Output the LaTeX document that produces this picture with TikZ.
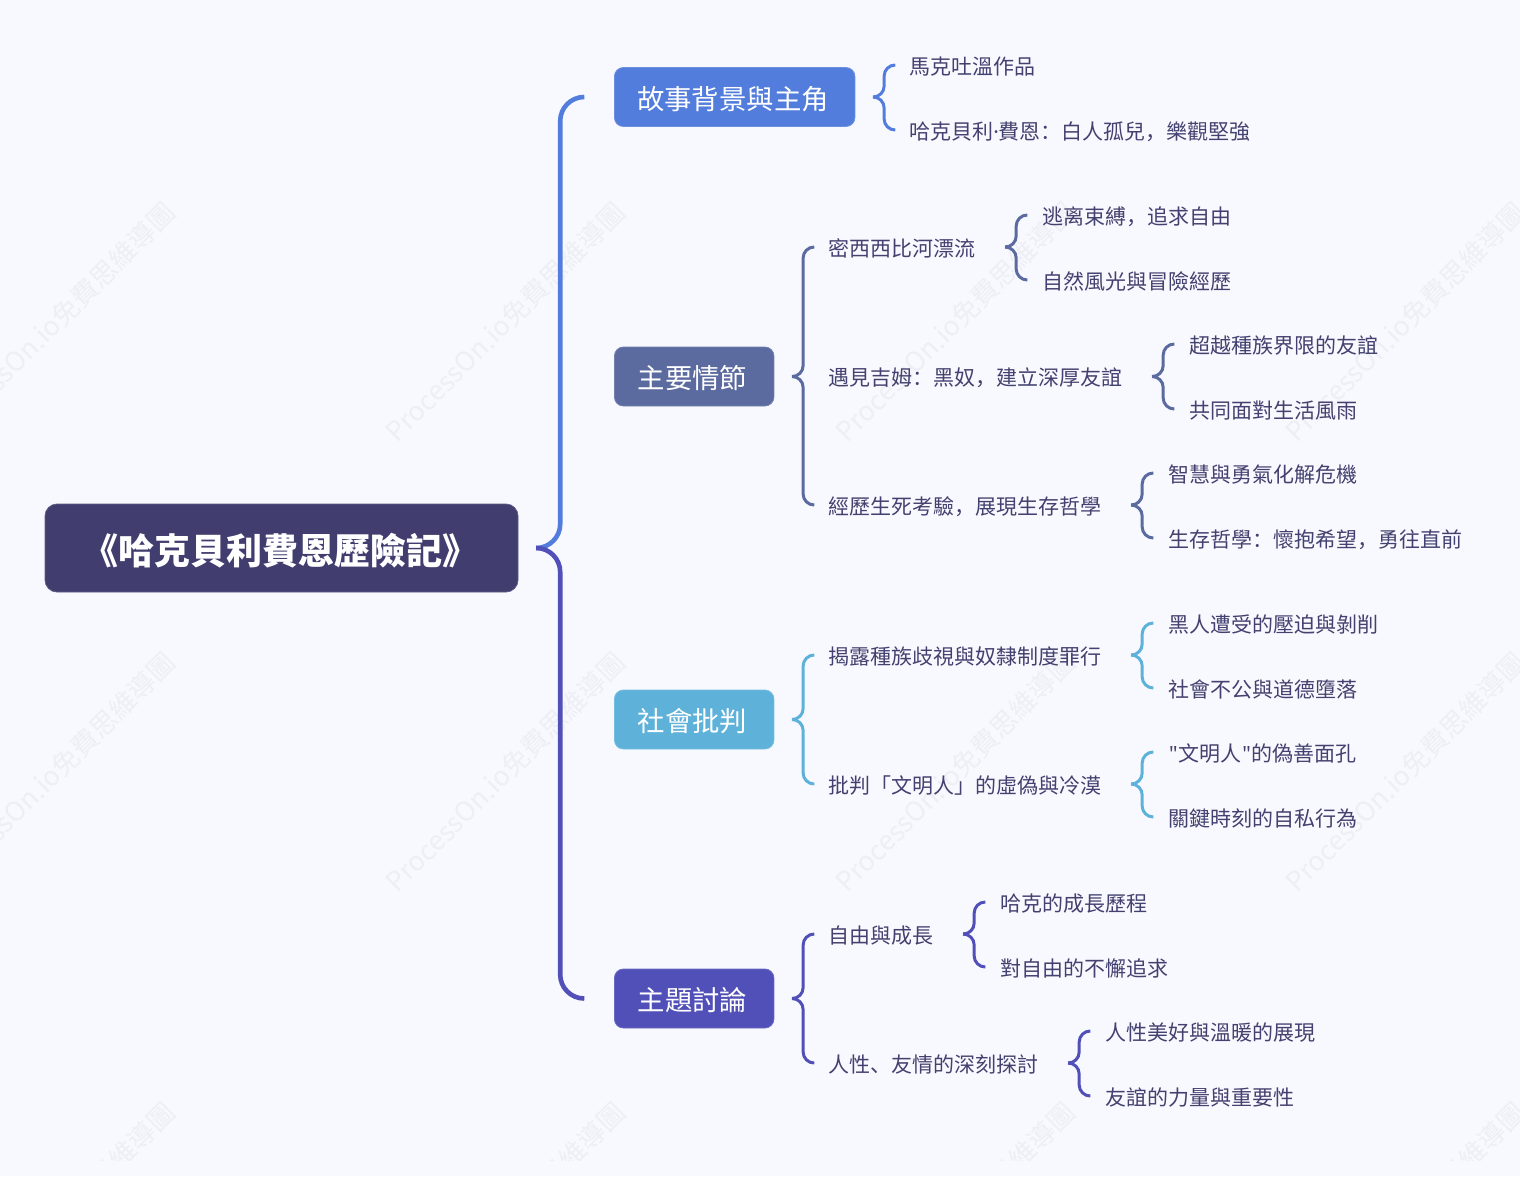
\documentclass[tikz,border=0pt]{standalone}
\usepackage{fontspec}
\usetikzlibrary{calc}
\setmainfont{Noto Sans CJK SC}
\newfontfamily\latinf{Noto Sans}
\definecolor{bg}{HTML}{F8F9FF}
\definecolor{ink}{HTML}{43416F}
\definecolor{rootc}{HTML}{413E6F}
\definecolor{ca}{HTML}{527DDC}
\definecolor{cb}{HTML}{5B6B9F}
\definecolor{cc}{HTML}{5EB2DA}
\definecolor{cd}{HTML}{5150B8}
\definecolor{wmc}{HTML}{EDEFF5}
\tikzset{
  x=1pt,y=-1pt,
  rootbox/.style={fill=rootc,draw=rootc!85!white,line width=.8pt,rounded corners=12pt,inner sep=0pt,minimum width=473pt,minimum height=88pt,text=white,
     font=\fontsize{36}{40}\selectfont\bfseries,text height=33pt,text depth=1pt,execute at begin node={\hskip-3pt}},
  mainbox/.style={draw=#1!85!white,fill=#1,line width=.8pt,rounded corners=9pt,inner sep=0pt,minimum width=159.5pt,minimum height=59pt,text=white,
     font=\fontsize{27.4}{32}\selectfont,text height=26pt,text depth=1.4pt,execute at begin node={\hskip-3.5pt}},
  leaf/.style={anchor=west,inner sep=0pt,text=ink,font=\fontsize{21}{25}\selectfont,text height=20pt,text depth=2pt},
  wmark/.style={anchor=east,rotate=45,inner sep=0pt,text=wmc,font=\fontsize{26.8}{32}\selectfont},
  conn/.style={line width=3pt},
  trunk/.style={line width=4.6pt,rounded corners=24pt}
}
\newcommand\lf[4]{\node[leaf] (#1) at (#2,#3) {#4};}
\newcommand\qt{\kern1pt{\latinf"}\kern.5pt}
% parent, child, colour, tip gap, end gap
\newcommand\cn[5]{%
  \coordinate (t) at ($(#1.east)+(#4,0)$);
  \coordinate (e) at ($(#2.west)+(-#5,0)$);
  \coordinate (m) at ($(t)!.5!(e)$);
  \draw[conn,#3,rounded corners=11pt] (t) -- (m|-t) -- (m|-e) -- (e);
}
\newcommand\tr[2]{%
  \coordinate (t) at ($(r.east)+(18,0)$);
  \coordinate (e) at ($(#1.west)+(-30,0)$);
  \coordinate (m) at ($(t)!.5!(e)$);
  \draw[trunk,#2] (t) -- (m|-t) -- (m|-e) -- (e);
}
\begin{document}
\begin{tikzpicture}
\useasboundingbox (0,0) rectangle (1520,1176);
\fill[bg] (0,0) rectangle (1520,1176);
\begin{scope}
\clip (0,0) rectangle (1520,1160);
\foreach \xe [count=\i] in {170,620,1070,1520}
  \foreach \ye [count=\j] in {207,657,1107}
    \node[wmark] (wm\i\j) at (\xe,\ye) {ProcessOn.io免費思維導圖};
\end{scope}

\node[rootbox] (r) at (281.5,548) {《哈克貝利費恩歷險記》};
\node[mainbox=ca,minimum width=240.5pt,anchor=west] (a) at (614,97) {故事背景與主角};
\node[mainbox=cb,anchor=west] (b) at (614,376.5) {主要情節};
\node[mainbox=cc,anchor=west] (c) at (614,719.5) {社會批判};
\node[mainbox=cd,anchor=west] (d) at (614,998.5) {主題討論};

\lf{a1}{909.5}{65}{馬克吐溫作品}
\lf{a2}{909.5}{130}{哈克貝利\makebox[5pt]{\latinf·}費恩：白人孤兒，樂觀堅強}
\lf{b1}{828}{247}{密西西比河漂流}
\lf{b2}{828}{376.5}{遇見吉姆：黑奴，建立深厚友誼}
\lf{b3}{828}{505}{經歷生死考驗，展現生存哲學}
\lf{b11}{1042}{215}{逃离束縛，追求自由}
\lf{b12}{1042}{280}{自然風光與冒險經歷}
\lf{b21}{1189}{344}{超越種族界限的友誼}
\lf{b22}{1189}{409}{共同面對生活風雨}
\lf{b31}{1168}{473}{智慧與勇氣化解危機}
\lf{b32}{1168}{538}{生存哲學：懷抱希望，勇往直前}
\lf{c1}{828}{655}{揭露種族歧視與奴隸制度罪行}
\lf{c2}{828}{784}{批判「文明人」的虛偽與冷漠}
\lf{c11}{1168}{623}{黑人遭受的壓迫與剝削}
\lf{c12}{1168}{688}{社會不公與道德墮落}
\lf{c21}{1168}{752}{\qt 文明人\qt 的偽善面孔}
\lf{c22}{1168}{817}{關鍵時刻的自私行為}
\lf{d1}{828}{934}{自由與成長}
\lf{d2}{828}{1063}{人性、友情的深刻探討}
\lf{d11}{1000}{902}{哈克的成長歷程}
\lf{d12}{1000}{967}{對自由的不懈追求}
\lf{d21}{1105}{1031}{人性美好與溫暖的展現}
\lf{d22}{1105}{1096}{友誼的力量與重要性}

\tr{a}{ca}
\tr{d}{cd}

\cn{a}{a1}{ca}{18}{14.5}
\cn{a}{a2}{ca}{18}{14.5}
\cn{b}{b1}{cb}{18}{14}
\cn{b}{b3}{cb}{18}{14}
\cn{b1}{b11}{cb}{30}{15}
\cn{b1}{b12}{cb}{30}{15}
\cn{b2}{b21}{cb}{30}{15}
\cn{b2}{b22}{cb}{30}{15}
\cn{b3}{b31}{cb}{30}{15}
\cn{b3}{b32}{cb}{30}{15}
\cn{c}{c1}{cc}{18}{14}
\cn{c}{c2}{cc}{18}{14}
\cn{c1}{c11}{cc}{30}{15}
\cn{c1}{c12}{cc}{30}{15}
\cn{c2}{c21}{cc}{30}{15}
\cn{c2}{c22}{cc}{30}{15}
\cn{d}{d1}{cd}{18}{14}
\cn{d}{d2}{cd}{18}{14}
\cn{d1}{d11}{cd}{30}{15}
\cn{d1}{d12}{cd}{30}{15}
\cn{d2}{d21}{cd}{30}{15}
\cn{d2}{d22}{cd}{30}{15}
\end{tikzpicture}
\end{document}
